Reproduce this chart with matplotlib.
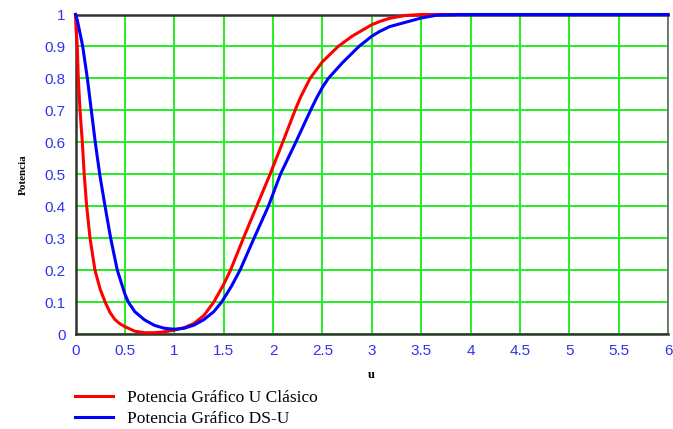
import numpy as np
import matplotlib.pyplot as plt

# valores
u_clasico = [0, 0.005, 0.018, 0.028, 0.046, 0.069, 0.088, 0.113, 0.147, 0.197, 0.25, 0.3,
             0.35, 0.4, 0.45, 0.5, 0.6, 0.7, 0.8, 0.9, 1.0, 1.1, 1.2, 1.3, 1.4, 1.5, 1.57, 1.7,
             1.835, 1.97, 2.098, 2.223, 2.28, 2.375, 2.5, 2.66, 2.8, 3.0, 3.08, 3.18,
             3.34, 3.5, 6]
p_clasico = [1.0, 0.96, 0.9, 0.8, 0.7, 0.6, 0.5, 0.4, 0.3, 0.2, 0.14, 0.1,
             0.067, 0.045, 0.032, 0.023, 0.009, 0.004, 0.004, 0.007, 0.012, 0.02, 0.033, 0.058,
             0.1, 0.155, 0.2, 0.3,
             0.4, 0.5, 0.6, 0.7, 0.742, 0.8, 0.852, 0.9, 0.932, 0.968, 0.978, 0.988,
             0.997, 1.0, 1.0]

u_dsu = [0, 0.02, 0.073, 0.12, 0.16, 0.2, 0.245, 0.299, 0.356, 0.423, 0.5, 0.535, 0.6,
         0.7, 0.8, 0.9, 1.0, 1.1, 1.2, 1.3, 1.4, 1.48, 1.58, 1.666, 1.808, 1.953, 2.075,
         2.23, 2.38, 2.44, 2.5, 2.56, 2.7, 2.87, 3.0, 3.08, 3.18, 3.5, 3.66, 3.9, 6]
p_dsu = [1.0, 0.98, 0.9, 0.8, 0.7, 0.6, 0.5, 0.4, 0.3, 0.2, 0.125, 0.1, 0.07,
         0.044, 0.027, 0.018, 0.015, 0.018, 0.028, 0.045, 0.07, 0.1, 0.15, 0.2, 0.3, 0.4, 0.5,
         0.6, 0.7, 0.738, 0.772, 0.8, 0.848, 0.9, 0.932, 0.947, 0.962, 0.989, 0.998, 1.0, 1.0]

x_ticks = np.arange(0, 6.01, 0.5)
y_ticks = np.arange(0, 1.001, 0.1)
x_labels = ['0', '0.5', '1', '1.5', '2', '2.5', '3', '3.5', '4', '4.5', '5', '5.5', '6']
y_labels = ['0', '0.1', '0.2', '0.3', '0.4', '0.5', '0.6', '0.7', '0.8', '0.9', '1']

fig = plt.figure(figsize=(6.73, 4.29), dpi=100)
ax = fig.add_axes([0.1122, 0.2214, 0.8804, 0.7448])

ax.plot(u_clasico, p_clasico, color='#ff0000', linewidth=2.2, label='Potencia Gráfico U Clásico',
        zorder=3, clip_on=False)
ax.plot(u_dsu, p_dsu, color='#0000ff', linewidth=2.2, label='Potencia Gráfico DS-U',
        zorder=4, clip_on=False)

ax.set_xlim(0, 6)
ax.set_ylim(0, 1)
ax.set_xticks(x_ticks)
ax.set_xticklabels(x_labels)
ax.set_yticks(y_ticks)
ax.set_yticklabels(y_labels)
ax.grid(True, color='#22ee22', linewidth=1.4)
ax.set_axisbelow(True)
ax.tick_params(length=0, pad=7, labelsize=11, labelcolor='#3333ee')
for lab in ax.get_xticklabels() + ax.get_yticklabels():
    lab.set_family('Liberation Sans')

for side in ['left', 'bottom', 'top']:
    ax.spines[side].set_color('#333333')
    ax.spines[side].set_linewidth(1.8)
ax.spines['right'].set_color('#666666')
ax.spines['right'].set_linewidth(1.2)

ax.set_xlabel('u', family='Liberation Serif', fontsize=9, fontweight='bold', labelpad=8)
ax.set_ylabel('Potencia', family='Liberation Serif', fontsize=8, fontweight='bold', labelpad=12)

leg = fig.legend(loc='upper left', bbox_to_anchor=(0.111, 0.092), frameon=False,
                 prop={'family': 'Liberation Serif', 'size': 12.5},
                 handlelength=2.2, handletextpad=0.8, labelspacing=0.32,
                 borderpad=0, borderaxespad=0)

fig.savefig('out.png', dpi=100)
